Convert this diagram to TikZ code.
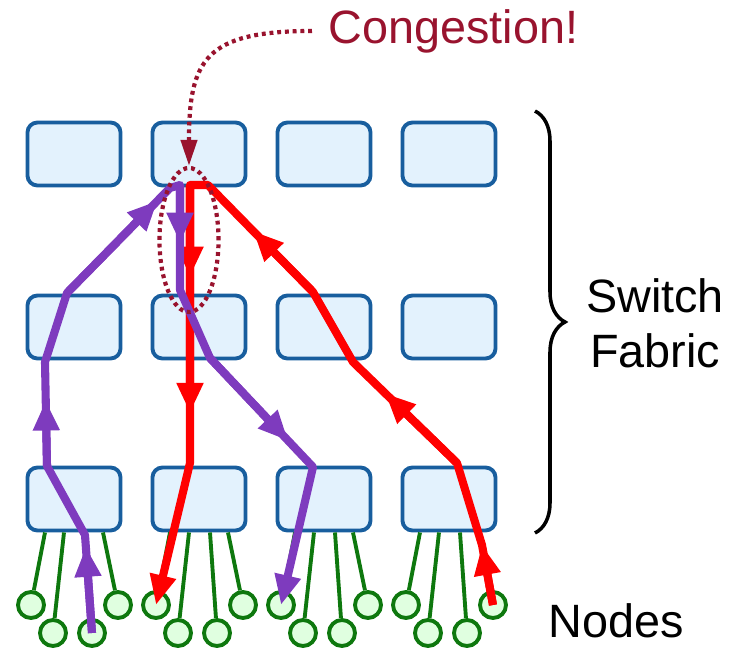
\documentclass[tikz,border=0pt]{standalone}
\usepackage{fontspec}
\setmainfont{Liberation Sans}
\usepackage{tikz}
\usetikzlibrary{
  arrows.meta,
  calc,
  shapes.geometric,
  decorations.pathreplacing
}
\usepackage{xcolor}
\definecolor{swfill}{HTML}{E3F2FD}
\definecolor{swline}{HTML}{185E9E}
\definecolor{hostfill}{HTML}{E0FFE0}
\definecolor{wirecol}{HTML}{0E780E}
\definecolor{flowA}{HTML}{7E3BBE}
\definecolor{flowB}{HTML}{FF0000}
\definecolor{congest}{HTML}{99132E}

\begin{document}
\begin{tikzpicture}[
  x=0.01cm, y=-0.01cm,
  switch/.style={draw=swline, fill=swfill, line width=1.1pt, rounded corners=0.1cm,
                 minimum width=0.93cm, minimum height=0.63cm},
  host/.style={circle, draw=wirecol, fill=hostfill, line width=1.1pt,
               minimum size=0.26cm, inner sep=0pt},
  wire/.style={draw=wirecol, line width=1.1pt},
  flow/.style={line width=2.3pt, line join=round},
  midtip/.style={-{Triangle[length=0.3cm, width=0.25cm]}},
  txt/.style={font=\fontsize{13.3}{15.6}\selectfont, inner sep=0pt}
]
  \useasboundingbox (0,0) rectangle (729,651);

  % Switch fabric
  \foreach \r/\y in {1/154, 2/327, 3/499}
    \foreach \c in {1,...,4}
      \node[switch] (sw-\r-\c) at ({74+125*(\c-1)}, \y) {};

  % Hosts under the edge switches
  \foreach \c in {1,...,4} {
    \foreach \k/\dx/\hy/\tx in {1/-43/605/-29, 2/-21/633/-10, 3/18/633/11, 4/44/605/29} {
      \node[host] (h-\c-\k) at ({74+125*(\c-1)+\dx}, \hy) {};
      \draw[wire] ($(sw-3-\c.south)+(\tx,0)$) -- (h-\c-\k);
    }
  }

  % Red flow
  \coordinate (r1) at (482,545);
  \coordinate (r2) at (457,463);
  \coordinate (r3) at (353,362);
  \coordinate (r4) at (313,292);
  \coordinate (r5) at (208,185);
  \coordinate (r6) at (190,185);
  \coordinate (r7) at (190,463);
  \draw[flow, flowB, midtip] (h-4-4.center) -- (r1) -- (r2) -- (r3) -- (r4) -- (r5)
    -- (r6) -- (r7) -- (h-2-1.center);
  \draw[flow, flowB, midtip] (h-4-4.center) -- (r1);
  \draw[flow, flowB, midtip] (r2) -- ($(r2)!0.69!(r3)$);
  \draw[flow, flowB, midtip] (r4) -- ($(r4)!0.57!(r5)$);
  \draw[flow, flowB, midtip] (r6) -- ($(r6)!0.33!(r7)$);
  \draw[flow, flowB, midtip] (r6) -- ($(r6)!0.82!(r7)$);

  % Purple flow
  \coordinate (p1) at (85,535);
  \coordinate (p2) at (47,466);
  \coordinate (p3) at (45,362);
  \coordinate (p4) at (67,293);
  \coordinate (p5) at (170,188);
  \coordinate (p6) at (180,185);
  \coordinate (p7) at (180,290);
  \coordinate (p8) at (210,358);
  \coordinate (p9) at (313,467);
  \draw[flow, flowA, midtip] (h-1-3.center) -- (p1) -- (p2) -- (p3) -- (p4) -- (p5)
    -- (p6) -- (p7) -- (p8) -- (p9) -- (h-3-1.center);
  \draw[flow, flowA, midtip] (h-1-3.center) -- ($(h-1-3.center)!0.88!(p1)$);
  \draw[flow, flowA, midtip] (p2) -- ($(p2)!0.63!(p3)$);
  \draw[flow, flowA, midtip] (p4) -- ($(p4)!0.88!(p5)$);
  \draw[flow, flowA, midtip] (p6) -- ($(p6)!0.55!(p7)$);
  \draw[flow, flowA, midtip] (p8) -- ($(p8)!0.76!(p9)$);

  % Congestion marker
  \node[ellipse, draw=congest, line width=1.2pt, dash pattern=on 1.1pt off 1.1pt,
        minimum width=0.59cm, minimum height=1.44cm, inner sep=0pt] (hot) at (189,240) {};
  \node[txt, text=congest, anchor=west, inner xsep=0.16cm] (cong) at (312,31) {Congestion!};
  \draw[congest, line width=1.2pt, dash pattern=on 1.1pt off 1.1pt,
        -{Triangle[length=0.26cm, width=0.16cm]}]
    (cong.west) .. controls (205,31) and (189,60) .. (hot.north);

  % Labels
  \draw[line width=1pt, decorate, decoration={brace, amplitude=0.3cm}]
    (535,111) -- (535,533);
  \node[txt, align=center] (fabric) at (655,323) {Switch\\Fabric};
  \node[txt, anchor=base west] (nodes) at (548,637) {Nodes};
\end{tikzpicture}
\end{document}
